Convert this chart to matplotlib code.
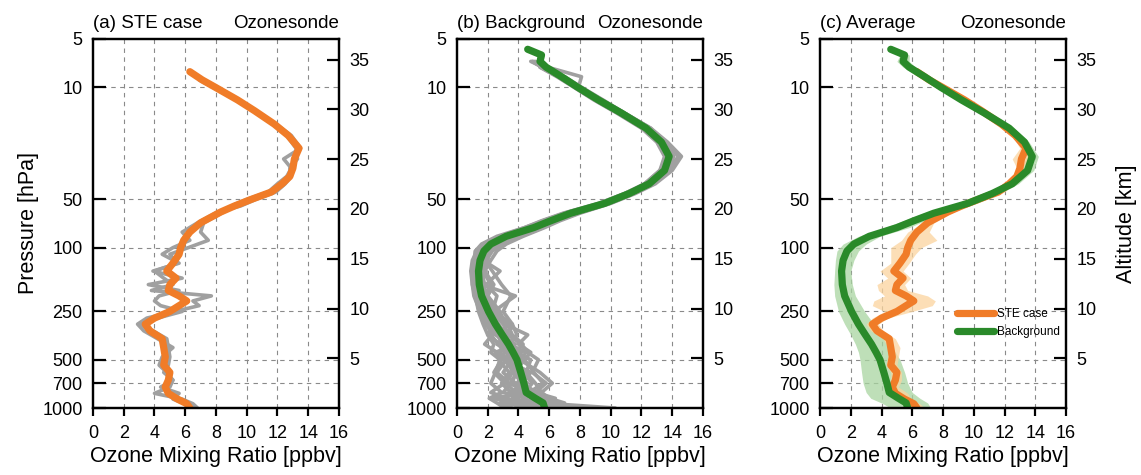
import numpy as np
import matplotlib
matplotlib.use('Agg')
import matplotlib.pyplot as plt
from matplotlib.ticker import FixedLocator, NullLocator

plt.rcParams['font.family'] = ['Liberation Sans', 'DejaVu Sans']

nan = np.nan

# ---- panel (a): STE case, pressure grid [hPa]
p_ste = [8, 9, 10, 12, 14, 17, 20, 24, 28, 32, 36, 40, 45, 50, 55, 60, 70, 80, 90, 100,
         110, 125, 140, 155, 170, 185, 200, 215, 230, 250, 275, 300, 330, 370, 420, 480,
         540, 600, 670, 740, 810, 880, 940, 1000]
ste_mean = [6.3, 7.1, 7.95, 9.4, 10.5, 11.8, 12.7, 13.4, 13.1, 13.0, 12.8, 12.3, 11.6, 10.3, 9.2, 8.3,
            7.0, 6.3, 5.9, 5.7, 5.6, 5.2, 4.8, 5.4, 5.0, 4.9, 5.6, 6.1, 5.6, 5.0, 4.0, 3.4, 3.7, 4.5,
            4.6, 4.7, 4.6, 5.0, 4.9, 4.7, 4.9, 5.5, 6.1, 6.3]
ste_prof1 = [nan, 6.9, 7.8, 9.3, 10.6, 11.9, 12.9, 13.5, 12.4, 12.9, 12.6, 12.0, 11.4, 10.0, 9.0, 8.5,
             7.2, 7.0, 7.5, 6.2, 5.0, 5.5, 4.0, 4.6, 5.2, 3.8, 7.7, 6.5, 6.9, 5.3, 3.5, 2.9, 3.3, 4.2,
             5.2, 4.5, 4.3, 4.8, 5.2, 5.0, 4.0, 5.8, 6.5, 6.8]
ste_prof2 = [nan, 7.2, 8.1, 9.5, 10.4, 11.7, 12.6, 13.2, 13.3, 12.8, 12.9, 12.5, 11.9, 10.6, 9.6, 8.1,
             6.8, 5.8, 6.3, 5.2, 4.5, 5.6, 3.9, 5.8, 3.6, 5.6, 4.3, 4.0, 4.4, 5.8, 4.2, 3.0, 3.9, 4.8,
             4.9, 5.0, 4.9, 4.6, 5.2, 4.4, 5.6, 5.2, 6.0, 6.6]
ste_lo = [6.1, 6.9, 7.8, 9.2, 10.3, 11.6, 12.5, 13.0, 12.5, 12.8, 12.5, 12.0, 11.3, 9.9, 8.9, 8.0,
          6.7, 5.7, 5.3, 4.6, 4.6, 4.6, 3.9, 4.4, 3.7, 3.8, 4.2, 3.5, 3.4, 4.2, 3.4, 3.0, 3.3, 4.1,
          4.4, 4.4, 4.3, 4.6, 4.6, 4.4, 4.3, 5.1, 5.8, 6.0]
ste_hi = [6.5, 7.3, 8.2, 9.6, 10.7, 12.0, 13.0, 13.7, 13.5, 13.2, 13.1, 12.6, 12.0, 10.8, 9.7, 8.7,
          7.4, 7.1, 7.6, 6.6, 6.2, 5.8, 5.4, 5.9, 5.5, 5.7, 7.0, 7.5, 7.3, 6.0, 4.4, 3.8, 4.1, 4.9,
          5.2, 5.1, 5.0, 5.3, 5.3, 5.1, 5.7, 5.9, 6.5, 6.8]

# ---- panel (b): background cases
p_bg = [5.8, 6.3, 6.9, 7.5, 8.6, 10, 12, 14.5, 18, 22, 27, 33, 40, 46, 53, 61, 68, 75, 85, 95,
        105, 120, 140, 170, 200, 250, 300, 350, 400, 450, 500, 600, 700, 800, 870, 930, 1000]
bg_mean = [4.6, 5.5, 5.4, 5.8, 6.8, 7.85, 9.2, 10.7, 12.3, 13.3, 13.8, 13.5, 12.5, 11.2, 9.6, 7.4, 6.1,
           5.0, 3.2, 2.2, 1.75, 1.5, 1.4, 1.45, 1.6, 2.05, 2.5, 2.95, 3.35, 3.65, 3.9, 4.15, 4.35,
           4.5, 5.1, 5.6, 5.7]
bg_lo = [4.4, 5.2, 5.0, 5.4, 6.4, 7.5, 8.9, 10.4, 12.0, 13.0, 13.4, 13.1, 12.1, 10.7, 9.0, 6.7, 5.4,
         4.2, 2.5, 1.5, 1.1, 1.0, 0.95, 0.9, 0.95, 1.2, 1.6, 2.0, 2.3, 2.5, 2.6, 2.7, 2.8, 3.0, 3.3,
         4.0, 4.6]
bg_hi = [4.8, 5.8, 5.8, 6.2, 7.2, 8.2, 9.5, 11.0, 12.6, 13.6, 14.2, 13.9, 12.9, 11.7, 10.2, 8.1, 6.8,
         5.8, 3.9, 3.0, 2.5, 2.2, 2.0, 2.1, 2.3, 2.9, 3.5, 4.0, 4.5, 4.9, 5.2, 5.5, 5.7, 6.0, 6.5,
         7.0, 7.2]
bg_profiles = [
    [nan, nan, 4.9, 5.5, 6.9, 8.0, 9.4, 10.9, 12.5, 13.6, 14.5, 13.4, 12.3, 10.9, 9.2, 6.9, 5.5, 4.4, 2.6,
     1.6, 1.2, 1.1, 1.0, 1.2, 1.4, 1.8, 2.2, 2.6, 3.0, 2.8, 3.3, 3.6, 3.2, 3.8, 2.9, 4.2, 5.2],
    [nan, nan, 5.0, 5.9, 8.1, 7.9, 9.3, 10.9, 12.6, 13.7, 14.6, 14.0, 12.9, 11.6, 10.0, 8.0, 6.7, 5.7, 4.3,
     3.2, 2.6, 2.2, 1.8, 2.4, 2.0, 2.8, 3.1, 4.6, 4.0, 4.8, 4.4, 5.0, 5.6, 4.7, 5.9, 6.3, 7.2],
    [nan, nan, nan, 5.4, 6.5, 7.6, 8.9, 10.4, 12.0, 13.0, 13.5, 13.2, 12.2, 10.9, 9.3, 7.0, 5.6, 4.4, 2.8,
     1.7, 1.3, 1.0, 0.9, 1.0, 1.1, 1.5, 1.9, 2.3, 1.8, 2.6, 2.9, 2.4, 3.1, 2.2, 3.3, 4.0, 4.6],
    [nan, nan, nan, 5.6, 7.0, 8.1, 9.5, 10.9, 12.6, 13.5, 14.0, 13.8, 12.8, 11.5, 9.9, 7.8, 6.5, 5.5, 3.9,
     2.8, 2.0, 1.6, 1.5, 1.4, 1.7, 2.5, 3.3, 3.6, 4.3, 3.8, 4.8, 4.5, 5.1, 5.5, 4.8, 5.5, 10.3],
    [nan, nan, 5.1, 5.7, 6.7, 7.7, 9.0, 10.5, 12.2, 13.2, 13.7, 13.2, 12.2, 11.0, 9.4, 7.1, 5.8, 4.8, 3.0,
     2.0, 1.5, 1.3, 1.2, 1.3, 1.5, 2.0, 2.4, 2.0, 2.8, 3.2, 3.6, 3.0, 3.8, 4.1, 3.6, 4.8, 5.6],
    [nan, nan, nan, nan, 7.0, 8.0, 9.3, 10.8, 12.4, 13.4, 14.1, 13.7, 12.7, 11.4, 9.8, 7.7, 6.4, 5.4, 3.6,
     2.5, 1.9, 1.7, 2.8, 1.9, 2.6, 2.3, 3.0, 3.4, 3.0, 4.2, 3.8, 4.4, 4.0, 4.9, 4.3, 5.2, 6.0],
    [nan, nan, nan, 5.5, 6.6, 7.7, 9.1, 10.6, 12.2, 13.2, 13.8, 13.4, 12.4, 11.1, 9.5, 7.3, 6.0, 5.0, 3.2,
     2.1, 1.6, 1.4, 1.3, 1.5, 1.9, 1.7, 2.1, 2.5, 3.6, 3.1, 4.2, 3.7, 4.6, 3.4, 4.0, 3.1, 4.8],
    [nan, nan, 4.8, 5.6, 6.8, 7.9, 9.3, 10.8, 12.4, 13.4, 13.9, 13.7, 12.7, 11.4, 9.9, 7.9, 6.5, 5.6, 4.1,
     3.0, 2.3, 1.9, 1.6, 1.8, 1.5, 2.2, 2.7, 3.2, 2.6, 3.5, 3.1, 4.8, 4.2, 5.2, 5.7, 6.6, 6.9],
    [nan, nan, nan, nan, 6.7, 7.8, 9.1, 10.6, 12.2, 13.2, 13.7, 13.4, 12.4, 11.1, 9.6, 7.5, 6.2, 5.2, 3.4,
     2.3, 1.8, 1.5, 1.3, 1.6, 3.8, 2.4, 2.0, 2.9, 3.8, 2.5, 3.2, 2.6, 3.4, 4.6, 2.4, 3.5, 4.2],
    [nan, nan, nan, 5.7, 6.8, 7.9, 9.2, 10.7, 12.3, 13.3, 13.8, 13.5, 12.5, 11.2, 9.6, 7.4, 6.1, 5.3, 3.5,
     2.4, 1.7, 1.5, 1.4, 1.3, 1.4, 1.9, 2.6, 3.1, 3.5, 4.0, 3.7, 4.3, 4.9, 4.4, 5.3, 5.9, 6.4],
    [nan, nan, nan, nan, nan, 8.0, 9.4, 10.9, 12.5, 13.5, 14.4, 13.8, 12.6, 11.2, 9.5, 7.2, 5.9, 4.9, 3.1,
     2.0, 1.5, 1.3, 1.9, 1.4, 1.5, 2.1, 2.6, 2.7, 3.3, 3.5, 3.0, 3.9, 3.5, 3.0, 4.5, 4.3, 5.3],
    [nan, nan, nan, nan, 6.9, 7.8, 9.1, 10.6, 12.1, 13.1, 13.7, 13.3, 12.3, 11.0, 9.4, 7.0, 5.6, 4.6, 2.9,
     1.8, 1.2, 1.2, 1.1, 1.3, 1.2, 1.6, 2.3, 2.7, 3.2, 3.8, 4.4, 3.7, 4.2, 3.9, 5.0, 4.6, 5.9],
    [nan, nan, nan, 5.6, 6.8, 7.9, 9.2, 10.7, 12.3, 13.3, 13.9, 13.5, 12.5, 11.2, 9.7, 7.6, 6.3, 5.2, 3.3,
     2.1, 1.4, 1.2, 1.1, 1.3, 1.3, 1.7, 2.1, 2.2, 2.7, 3.1, 2.7, 3.4, 2.9, 3.5, 3.9, 2.8, 3.6],
    [nan, nan, nan, nan, 6.9, 7.9, 9.3, 10.8, 12.4, 13.4, 14.0, 13.6, 12.6, 11.3, 9.7, 7.5, 6.2, 5.1, 3.4,
     2.6, 2.2, 1.8, 2.3, 2.9, 3.5, 3.0, 3.6, 3.3, 4.2, 4.6, 5.3, 4.9, 5.8, 5.1, 6.4, 5.8, 6.6],
    [nan, nan, nan, 5.4, 6.6, 7.7, 9.0, 10.5, 12.1, 13.1, 13.6, 13.3, 12.3, 11.0, 9.4, 7.2, 5.8, 4.7, 3.0,
     1.8, 1.3, 1.1, 1.0, 1.0, 1.2, 1.4, 1.7, 2.0, 2.4, 2.2, 2.8, 2.5, 2.2, 2.9, 2.1, 2.6, 3.1],
    [nan, nan, nan, nan, nan, 7.9, 9.2, 10.7, 12.3, 13.3, 13.8, 13.6, 12.6, 11.3, 9.8, 7.7, 6.4, 5.3, 3.7,
     2.7, 2.1, 2.0, 1.7, 2.2, 1.8, 2.4, 3.6, 3.9, 3.4, 4.5, 4.1, 5.4, 6.2, 5.5, 6.0, 7.0, 6.2],
    [nan, nan, 4.9, 5.6, 6.8, 7.8, 9.1, 10.6, 12.2, 13.2, 13.8, 13.4, 12.4, 11.1, 9.5, 7.3, 6.0, 4.9, 3.2,
     2.0, 1.4, 1.2, 1.3, 1.1, 1.6, 2.3, 2.0, 2.8, 3.3, 3.9, 3.4, 3.8, 3.6, 4.4, 4.9, 5.4, 5.0],
    [nan, nan, nan, nan, 6.8, 7.9, 9.2, 10.7, 12.3, 13.3, 13.8, 13.5, 12.5, 11.2, 9.6, 7.4, 6.1, 5.0, 3.3,
     2.2, 1.6, 1.4, 1.2, 1.7, 2.0, 2.6, 3.4, 2.7, 3.1, 3.6, 3.2, 4.5, 3.9, 4.8, 4.3, 4.1, 8.0],
]

p_ticks = [5, 10, 50, 100, 250, 500, 700, 1000]
x_ticks = list(range(0, 17, 2))
alt_ticks = [5, 10, 15, 20, 25, 30, 35]
titles = ['(a) STE case', '(b) Background', '(c) Average']

orange = '#f07c28'
green = '#2a8a2a'
gray = '#a0a0a0'
H = 7.0  # scale height for the altitude axis

fig = plt.figure(figsize=(11.41, 4.75), dpi=100)
lefts = [0.0815, 0.4005, 0.7187]
axes = []
for i, l in enumerate(lefts):
    ax = fig.add_axes([l, 0.141, 0.2156, 0.777])
    ax.set_yscale('log')
    ax.set_ylim(1000, 5)
    ax.set_xlim(0, 16)
    ax.yaxis.set_major_locator(FixedLocator(p_ticks))
    ax.yaxis.set_minor_locator(NullLocator())
    ax.set_yticklabels([str(t) for t in p_ticks])
    ax.set_xticks(x_ticks)
    for x in x_ticks[1:-1]:
        ax.axvline(x, color='#8a8a8a', lw=0.8, ls=(0, (4, 4)), zorder=0)
    for p in p_ticks[1:-1]:
        ax.axhline(p, color='#8a8a8a', lw=0.8, ls=(0, (4, 4)), zorder=0)
    ax.tick_params(axis='y', direction='in', length=9, width=1.6, pad=7.5, labelsize=13)
    ax.tick_params(axis='x', direction='out', length=6, width=1.6, pad=6, labelsize=13)
    for s in ax.spines.values():
        s.set_linewidth(1.6)
    ax.set_xlabel('Ozone Mixing Ratio [ppbv]', fontsize=15.5, labelpad=3)
    ax.set_title(titles[i], loc='left', fontsize=13.5, pad=8)
    ax.set_title('Ozonesonde', loc='right', fontsize=13.5, pad=8)

    ax2 = ax.twinx()
    ax2.set_ylim(0, H * np.log(1000 / 5))
    ax2.set_yticks(alt_ticks)
    ax2.tick_params(axis='y', direction='in', length=9, width=1.6, pad=7.5, labelsize=13)
    for s in ax2.spines.values():
        s.set_linewidth(1.6)
    axes.append(ax)

axes[0].set_ylabel('Pressure [hPa]', fontsize=15.5, labelpad=2)
ax2.set_ylabel('Altitude [km]', fontsize=15.5, labelpad=14)

# (a)
axA = axes[0]
for prof in [ste_prof1, ste_prof2]:
    axA.plot(prof, p_ste, color=gray, lw=2.6, solid_capstyle='round', solid_joinstyle='round')
axA.plot(ste_mean, p_ste, color=orange, lw=5.2, solid_capstyle='round', solid_joinstyle='round')

# (b)
axB = axes[1]
for prof in bg_profiles:
    axB.plot(prof, p_bg, color=gray, lw=2.6, solid_capstyle='round', solid_joinstyle='round')
axB.plot(bg_mean, p_bg, color=green, lw=5.2, solid_capstyle='round', solid_joinstyle='round')

# (c)
axC = axes[2]
axC.fill_betweenx(p_bg, bg_lo, bg_hi, color='#a8d5a0', alpha=0.75, lw=0)
axC.fill_betweenx(p_ste, ste_lo, ste_hi, color='#fbd49e', alpha=0.75, lw=0)
axC.plot(ste_mean, p_ste, color=orange, lw=5.2, solid_capstyle='round', solid_joinstyle='round',
         label='STE case')
axC.plot(bg_mean, p_bg, color=green, lw=5.2, solid_capstyle='round', solid_joinstyle='round',
         label='Background')
leg = axC.legend(loc='upper left', bbox_to_anchor=(0.555, 0.27), frameon=False, fontsize=8.5,
                 handlelength=3.2, handletextpad=0.25, borderpad=0, borderaxespad=0,
                 labelspacing=0.45)
for h in leg.get_lines():
    h.set_solid_capstyle('round')

fig.savefig('out.png', dpi=100)
